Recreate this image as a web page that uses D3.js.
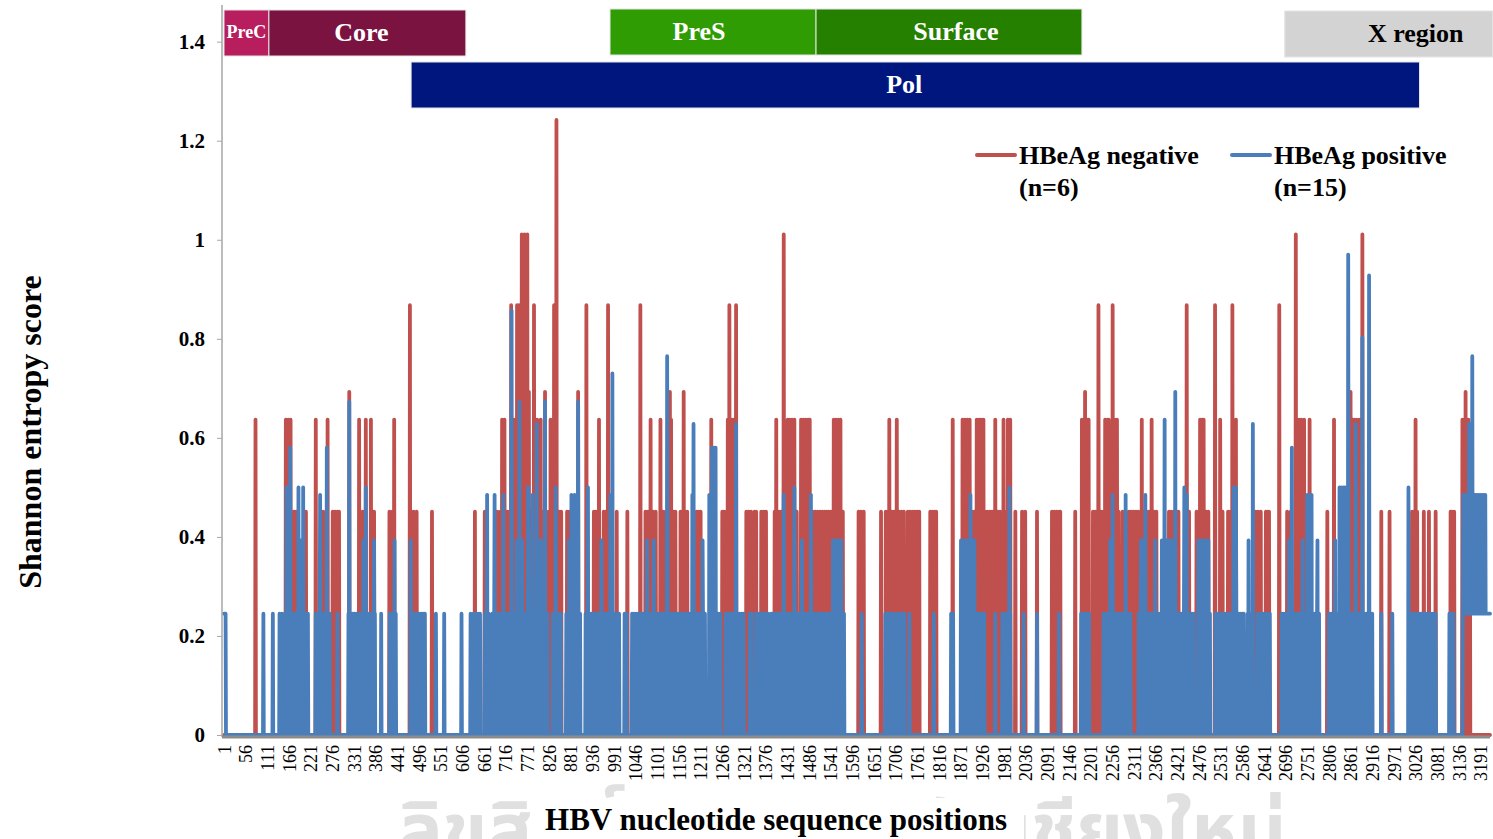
<!DOCTYPE html>
<html>
<head>
<meta charset="utf-8">
<script src="https://cdnjs.cloudflare.com/ajax/libs/d3/7.8.5/d3.min.js"></script>
<style>
body { margin: 0; background: #fff; }
text { font-family: "Liberation Serif", "Times New Roman", serif; }
</style>
</head>
<body>
<script>
const width = 1493;
const height = 839;

// genome length (positions 1..3215)
const seqLength = 3215;

// x tick labels, every 55 nt
const xTickLabels = [1, 56, 111, 166, 221, 276, 331, 386, 441, 496, 551, 606, 661, 716, 771, 826, 881, 936, 991,
	1046, 1101, 1156, 1211, 1266, 1321, 1376, 1431, 1486, 1541, 1596, 1651, 1706, 1761, 1816, 1871, 1926, 1981,
	2036, 2091, 2146, 2201, 2256, 2311, 2366, 2421, 2476, 2531, 2586, 2641, 2696, 2751, 2806, 2861, 2916, 2971,
	3026, 3081, 3136, 3191];
const yTickValues = [0, 0.2, 0.4, 0.6, 0.8, 1, 1.2, 1.4];

// HBeAg negative (n=6): [position, entropy], every other position is 0
const negativeSites = [
	[81,.637],[158,.637],[164,.637],[170,.637],[179,.451],[184,.451],[209,.451],[234,.637],[253,.451],[264,.637],
	[277,.451],[283,.451],[289,.451],[293,.451],[319,.693],[344,.637],[353,.451],[361,.637],[374,.637],[382,.451],
	[421,.451],[428,.451],[433,.637],[473,.868],[482,.451],[490,.451],[529,.451],[638,.451],
	[663,.451],[695,.451],[703,.451],[707,.637],[713,.637],[720,.451],[725,.451],[730,.868],[737,.637],[745,.868],
	[750,.868],[757,1.011],[764,1.011],[771,1.011],[775,.693],[781,.451],[788,.868],[796,.637],[801,.451],[805,.637],
	[811,.451],[816,.693],[825,.451],[830,.637],[839,.868],[845,1.242],[851,.451],[857,.451],[872,.451],[877,.451],
	[900,.693],[921,.868],[940,.451],[945,.451],[949,.451],[953,.637],[965,.451],[970,.451],[976,.868],[998,.451],
	[1025,.451],[1058,.868],[1071,.451],[1077,.451],[1084,.637],[1090,.451],[1097,.451],[1109,.637],[1115,.451],
	[1122,.451],[1133,.693],[1136,.637],[1142,.451],[1147,.451],[1160,.451],[1164,.451],[1168,.693],[1172,.451],
	[1177,.451],[1201,.451],[1206,.451],[1211,.451],[1238,.637],[1266,.451],[1270,.451],[1276,.451],
	[1280,.637],[1284,.868],[1288,.637],[1293,.637],[1301,.868],[1327,.451],[1333,.451],[1339,.451],[1348,.451],
	[1352,.451],[1365,.451],[1371,.451],[1377,.451],[1399,.451],[1403,.637],[1410,.451],[1416,.451],[1422,1.011],
	[1432,.637],[1437,.637],[1443,.637],[1449,.637],[1455,.451],[1466,.637],[1472,.637],[1478,.637],[1484,.637],
	[1488,.637],[1496,.451],[1502,.451],[1508,.451],[1514,.451],[1520,.451],[1526,.451],[1531,.451],[1536,.451],
	[1542,.451],[1549,.637],[1555,.637],[1561,.637],[1566,.637],[1572,.451],[1612,.451],[1618,.451],[1625,.451],
	[1669,.451],[1681,.451],[1686,.451],[1690,.637],[1696,.451],[1702,.451],[1709,.637],[1715,.451],[1721,.451],
	[1727,.451],[1737,.451],[1743,.451],[1749,.451],[1755,.451],[1761,.451],[1766,.451],[1794,.451],[1800,.451],
	[1806,.451],[1809,.451],[1851,.637],[1876,.637],[1882,.637],[1888,.637],[1894,.637],[1900,.451],[1906,.451],
	[1912,.637],[1918,.637],[1923,.637],
	[1929,.637],[1933,.451],[1939,.451],[1945,.451],[1951,.451],[1959,.637],[1965,.451],[1971,.451],[1980,.637],
	[1986,.451],[1991,.637],[1997,.637],[2010,.451],[2027,.451],[2035,.451],[2065,.451],[2103,.451],[2109,.451],
	[2115,.451],[2121,.451],[2124,.451],[2162,.451],[2179,.637],[2184,.637],[2187,.693],[2192,.637],[2196,.637],
	[2207,.451],[2213,.451],[2221,.868],[2227,.451],[2233,.451],[2238,.637],[2244,.637],[2247,.637],[2257,.868],
	[2262,.637],[2268,.637],[2272,.451],[2282,.451],[2288,.451],[2298,.451],[2304,.451],[2310,.451],[2316,.451],
	[2322,.451],[2331,.637],[2337,.451],[2343,.451],[2349,.451],[2356,.637],[2362,.451],[2368,.451],[2400,.451],
	[2406,.451],[2412,.451],[2418,.451],[2424,.451],[2445,.868],[2451,.451],[2470,.451],[2479,.637],[2484,.637],
	[2488,.637],[2494,.451],[2500,.451],[2517,.868],[2530,.637],[2536,.451],[2550,.451],[2556,.451],[2561,.868],
	[2566,.451],
	[2570,.637],[2620,.451],[2626,.451],[2633,.451],[2646,.451],[2650,.451],[2654,.451],[2680,.868],[2700,.451],
	[2709,.451],[2722,1.011],[2727,.637],[2730,.637],[2736,.637],[2743,.637],[2757,.637],[2802,.451],[2819,.637],
	[2861,.693],[2866,.637],[2870,.637],[2876,.637],[2883,.637],[2891,1.011],[2939,.451],[2960,.451],[3017,.451],
	[3022,.451],[3026,.637],[3030,.451],[3047,.451],[3060,.451],[3077,.451],[3115,.451],[3118,.451],[3124,.451],
	[3145,.637],[3149,.637],[3153,.693],[3157,.637],[3160,.637],[3164,.451]
];

// HBeAg positive (n=15): sites above the single-variant level
const positiveSites = [
	[160,.500],[169,.580],[190,.500],[196,.393],[202,.500],[245,.485],[262,.580],[319,.673],[355,.393],[361,.500],
	[382,.393],[434,.393],[475,.393],
	[669,.485],[688,.485],[710,.485],[731,.857],[744,.393],[751,.673],[758,.393],[773,.500],[784,.485],[795,.628],
	[805,.393],[816,.673],[843,.500],[877,.393],[883,.485],[891,.485],[900,.673],[925,.500],[959,.393],[982,.485],
	[987,.730],[1075,.393],[1092,.393],[1126,.765],[1190,.485],[1193,.628],[1216,.393],[1233,.485],[1240,.580],
	[1245,.580],[1249,.580],
	[1301,.628],[1422,.485],[1449,.500],[1468,.393],[1491,.485],[1547,.393],[1551,.393],[1555,.393],[1560,.393],
	[1564,.393],[1568,.393],[1872,.393],[1878,.393],[1884,.393],[1890,.393],[1896,.485],[1902,.393],[1906,.393],
	[1995,.500],[2251,.393],[2257,.485],[2290,.485],[2329,.393],[2335,.393],[2340,.485],[2365,.393],[2382,.393],
	[2389,.637],[2395,.393],[2400,.393],[2406,.393],[2416,.693],[2439,.500],[2445,.485],[2475,.393],[2481,.393],
	[2487,.393],[2493,.393],[2500,.393],[2564,.500],
	[2570,.500],[2602,.393],[2613,.628],[2705,.393],[2712,.580],[2739,.393],[2751,.485],[2756,.485],[2762,.485],
	[2777,.393],[2822,.393],[2833,.500],[2838,.500],[2843,.500],[2847,.500],[2855,.970],[2874,.628],[2891,.803],
	[2908,.928],[3008,.500],
	[3147,.485],[3150,.485],[3153,.485],[3156,.485],[3159,.485],[3162,.628],[3165,.485],[3168,.485],[3170,.765],
	[3173,.485],[3176,.485],[3179,.485],[3182,.485],[3185,.485],[3188,.485],[3191,.485],[3194,.485],[3197,.485],
	[3200,.485],[3203,.485]
];

// HBeAg positive: positions with one variant among 15 (entropy 0.245)
const positiveLowLevel = 0.245;
const positiveLow = [
	1,2,3,4,5,101,125,142,148,156,161,166,172,177,182,187,193,198,204,209,214,234,239,244,249,254,259,264,269,
	289,317,322,327,332,337,346,351,356,366,371,376,384,400,422,427,437,478,483,488,493,498,503,508,511,539,560,
	604,627,634,639,
	641,646,651,663,668,673,682,687,692,697,702,707,712,717,722,727,733,738,743,748,753,759,764,769,774,779,784,
	790,795,800,805,810,815,822,836,841,846,851,856,870,875,880,885,890,895,905,919,924,929,934,939,944,949,954,
	959,964,969,974,979,984,989,994,999,1004,1018,1023,1037,1042,1047,1052,1057,1062,1067,1072,1077,1082,1087,
	1092,1097,1102,1107,1112,1117,1122,1127,1132,1137,1142,1147,1152,1157,1162,1167,1172,1177,1182,1187,1192,
	1197,1202,1207,1212,1217,1222,1236,1241,1246,1251,1256,1261,1275,1280,
	1285,1290,1295,1300,1305,1310,1315,1320,1336,1341,1352,1357,1362,1367,1372,1377,1382,1390,1395,1400,1405,
	1410,1415,1420,1425,1430,1435,1440,1445,1450,1455,1463,1468,1473,1478,1483,1488,1493,1498,1503,1508,1513,
	1518,1523,1528,1533,1540,1545,1550,1555,1560,1565,1570,1575,1620,1680,1685,1690,1695,1700,1708,1713,1718,
	1723,1728,1741,1803,1847,1852,1873,1878,1883,1888,1893,1898,1903,1908,1913,1918,1923,1928,
	1931,1959,1977,1982,1987,1992,1997,2031,2065,2121,2177,2182,2187,2192,2197,2234,2239,2244,2249,2254,2259,
	2264,2269,2277,2282,2287,2292,2297,2302,2323,2328,2333,2338,2343,2348,2353,2358,2363,2368,2373,2378,2383,
	2388,2393,2398,2403,2408,2413,2418,2423,2428,2433,2438,2443,2448,2453,2458,2463,2474,2479,2484,2489,2494,
	2499,2504,2518,2523,2528,2533,2538,2543,2551,2556,2561,2566,
	2571,2576,2581,2586,2590,2600,2605,2610,2615,2626,2631,2636,2641,2646,2651,2656,2686,2691,2696,2701,2706,
	2711,2716,2721,2726,2731,2736,2741,2746,2751,2756,2761,2766,2771,2776,2781,2806,2811,2816,2821,2826,2831,
	2836,2841,2846,2851,2856,2861,2866,2871,2876,2881,2886,2891,2896,2901,2906,2911,2916,2939,2967,3018,3023,
	3028,3033,3038,3043,3048,3053,3058,3063,3068,3073,3077,3112,3117,3122,
	3146,3148,3149,3151,3152,3154,3155,3157,3158,3160,3161,3163,3164,3166,3167,3169,3171,3172,3174,3175,3177,
	3178,3180,3181,3183,3184,3186,3187,3189,3190,3192,3193,3195,3196,3198,3199,3201,3202,3204,3205,3206,3207,
	3208,3209,3210,3211,3212,3213,3214,3215
];

// gene regions along the genome
const geneNames = ["PreC", "Core", "PreS", "Surface", "X region", "Pol"];
const geneStart = [1, 115, 981, 1504, 2694, 476];
const geneEnd = [115, 615, 1504, 2179, 3222, 3036];

const seriesNames = ["HBeAg negative", "HBeAg positive"];
const seriesCounts = ["(n=6)", "(n=15)"];

// build the full per-position series
const negative = new Array(seqLength).fill(0);
negativeSites.forEach(([p, v]) => negative[p - 1] = v);
const positive = new Array(seqLength).fill(0);
positiveLow.forEach(p => positive[p - 1] = positiveLowLevel);
positiveSites.forEach(([p, v]) => positive[p - 1] = v);

const x = d3.scaleLinear().domain([1, seqLength]).range([224, 1490]);
const y = d3.scaleLinear().domain([0, 1.47]).range([735, 7]);

const red = "#c0504d";
const blue = "#4a7ebb";

const svg = d3.select("body")
	.append("svg")
	.attr("width", width)
	.attr("height", height);

// watermark
svg.append("text")
	.attr("x", 842)
	.attr("y", 856)
	.attr("text-anchor", "middle")
	.style("font-family", "'Noto Sans Thai', 'Noto Sans', sans-serif")
	.style("font-size", "75px")
	.style("font-weight", "bold")
	.style("fill", "#e0e0e0")
	.text("ลิขสิทธิ์มหาวิทยาลัยเชียงใหม่");

// lines, red underneath
const line = d3.line()
	.x((d, i) => x(i + 1))
	.y(d => y(d));

svg.append("path")
	.datum(negative)
	.attr("d", line)
	.attr("fill", "none")
	.attr("stroke", red)
	.attr("stroke-width", 3.8)
	.attr("stroke-linejoin", "round")
	.attr("stroke-linecap", "round");

svg.append("path")
	.datum(positive)
	.attr("d", line)
	.attr("fill", "none")
	.attr("stroke", blue)
	.attr("stroke-width", 3.8)
	.attr("stroke-linejoin", "round")
	.attr("stroke-linecap", "round");

// y axis
const yAxis = svg.append("g")
	.attr("transform", "translate(222,0)")
	.call(d3.axisLeft(y).tickValues(yTickValues).tickSize(5).tickFormat(d3.format("")));
yAxis.select(".domain").attr("stroke", "#a6a6a6").attr("stroke-width", 1.5).attr("d", "M0,5V737");
yAxis.selectAll(".tick line").attr("stroke", "#a6a6a6");
yAxis.selectAll(".tick text")
	.attr("x", -17)
	.style("font-family", "'Liberation Serif', serif")
	.style("font-size", "21px")
	.style("font-weight", "bold")
	.style("fill", "#000");

// x axis
const xAxis = svg.append("g")
	.attr("transform", "translate(0,737)")
	.call(d3.axisBottom(x).tickValues(xTickLabels).tickSize(0).tickFormat(d3.format("d")));
xAxis.select(".domain").attr("stroke", "#8c8c8c").attr("stroke-width", 3).attr("d", "M222,0H1490");
xAxis.selectAll(".tick text")
	.attr("transform", "rotate(-90)")
	.attr("text-anchor", "end")
	.attr("x", -8)
	.attr("y", 0)
	.attr("dy", "0.35em")
	.style("font-family", "'Liberation Serif', serif")
	.style("font-size", "18px")
	.style("fill", "#000");

// gene bars
const geneFill = ["#b81d5d", "#7b1340", "#2f9c03", "#268000", "#d3d3d3", "#00167f"];
const geneTop = [10, 10, 9, 9, 11, 62];
const geneFont = [18, 26, 26, 26, 26, 26];
const geneText = ["#fff", "#fff", "#fff", "#fff", "#000", "#fff"];
const geneShift = [0, -6, -14, 7, 27, -11];
geneNames.forEach((name, i) => {
	svg.append("rect")
		.attr("x", x(geneStart[i]))
		.attr("y", geneTop[i])
		.attr("width", x(geneEnd[i]) - x(geneStart[i]))
		.attr("height", 46)
		.attr("fill", geneFill[i])
		.attr("stroke", "#e4e4e4")
		.attr("stroke-width", 1);
	svg.append("text")
		.attr("x", (x(geneStart[i]) + x(geneEnd[i])) / 2 + geneShift[i])
		.attr("y", geneTop[i] + 22)
		.attr("dy", "0.35em")
		.attr("text-anchor", "middle")
		.style("font-size", geneFont[i] + "px")
		.style("font-weight", "bold")
		.style("fill", geneText[i])
		.text(name);
});

// legend
const legendX = [977, 1232];
[red, blue].forEach((c, i) => {
	svg.append("line")
		.attr("x1", legendX[i]).attr("x2", legendX[i] + 38)
		.attr("y1", 155).attr("y2", 155)
		.attr("stroke", c)
		.attr("stroke-width", 4)
		.attr("stroke-linecap", "round");
	svg.append("text")
		.attr("x", legendX[i] + 42)
		.attr("y", 164)
		.style("font-size", "26px")
		.style("font-weight", "bold")
		.text(seriesNames[i]);
	svg.append("text")
		.attr("x", legendX[i] + 42)
		.attr("y", 196)
		.style("font-size", "26px")
		.style("font-weight", "bold")
		.text(seriesCounts[i]);
});

// axis titles
svg.append("rect")
	.attr("x", 530).attr("y", 798).attr("width", 494).attr("height", 41)
	.attr("fill", "#fff");
svg.append("text")
	.attr("x", 776)
	.attr("y", 830)
	.attr("text-anchor", "middle")
	.style("font-size", "31px")
	.style("font-weight", "bold")
	.text("HBV nucleotide sequence positions");

svg.append("text")
	.attr("transform", "translate(41,432) rotate(-90)")
	.attr("text-anchor", "middle")
	.style("font-size", "32px")
	.style("font-weight", "bold")
	.text("Shannon entropy score");
</script>
</body>
</html>
